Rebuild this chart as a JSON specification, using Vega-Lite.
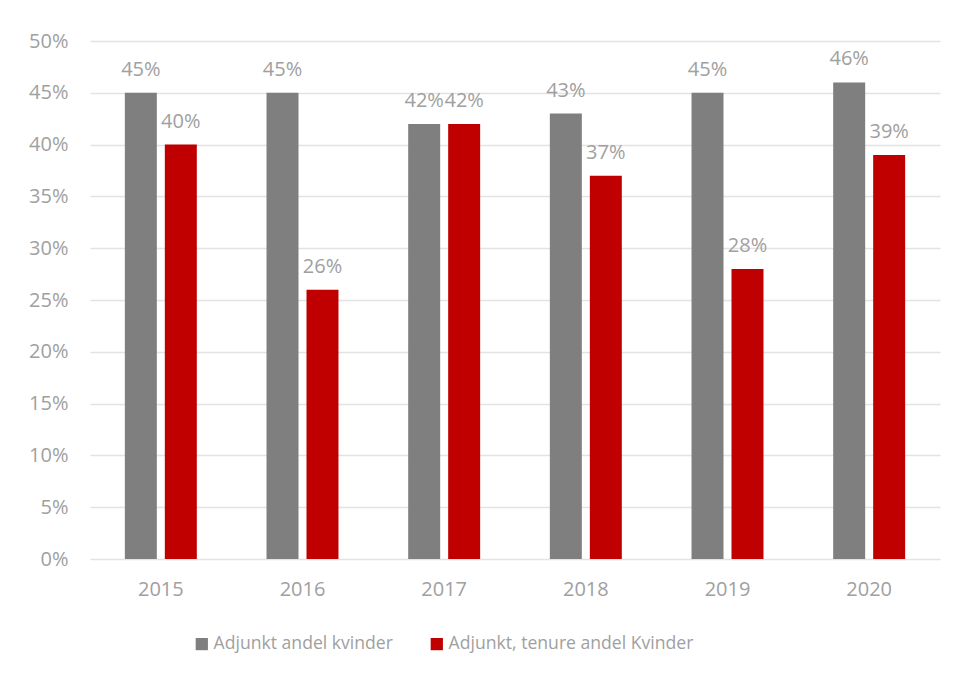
{
  "$schema": "https://vega.github.io/schema/vega-lite/v6.json",
  "width": 850,
  "height": 518,
  "autosize": {"type": "none"},
  "padding": {"left": 90, "top": 41, "right": 15, "bottom": 116},
  "background": "white",
  "data": {
    "values": [
      {"year": "2015", "series": "Adjunkt andel kvinder", "value": 0.45},
      {"year": "2015", "series": "Adjunkt, tenure andel Kvinder", "value": 0.40},
      {"year": "2016", "series": "Adjunkt andel kvinder", "value": 0.45},
      {"year": "2016", "series": "Adjunkt, tenure andel Kvinder", "value": 0.26},
      {"year": "2017", "series": "Adjunkt andel kvinder", "value": 0.42},
      {"year": "2017", "series": "Adjunkt, tenure andel Kvinder", "value": 0.42},
      {"year": "2018", "series": "Adjunkt andel kvinder", "value": 0.43},
      {"year": "2018", "series": "Adjunkt, tenure andel Kvinder", "value": 0.37},
      {"year": "2019", "series": "Adjunkt andel kvinder", "value": 0.45},
      {"year": "2019", "series": "Adjunkt, tenure andel Kvinder", "value": 0.28},
      {"year": "2020", "series": "Adjunkt andel kvinder", "value": 0.46},
      {"year": "2020", "series": "Adjunkt, tenure andel Kvinder", "value": 0.39}
    ]
  },
  "encoding": {
    "x": {
      "field": "year", "type": "nominal",
      "scale": {"paddingInner": 0.492, "paddingOuter": 0.246},
      "axis": {"title": null, "labelAngle": 0, "domain": false, "ticks": false, "labelPadding": 20, "labelFontSize": 20, "labelColor": "#a0a0a0", "labelFont": "Open Sans"}
    },
    "xOffset": {"field": "series", "type": "nominal", "scale": {"paddingInner": 0.2, "paddingOuter": 0}},
    "y": {
      "field": "value", "type": "quantitative",
      "scale": {"domain": [0, 0.5], "nice": false},
      "axis": {"title": null, "values": [0, 0.05, 0.1, 0.15, 0.2, 0.25, 0.3, 0.35, 0.4, 0.45, 0.5], "format": ".0%", "domain": false, "ticks": false, "labelPadding": 22, "labelFontSize": 20, "labelColor": "#a0a0a0", "labelFont": "Open Sans", "gridColor": "#e3e3e3", "gridWidth": 1.5}
    }
  },
  "layer": [
    {
      "mark": {"type": "bar"},
      "encoding": {
        "color": {
          "field": "series", "type": "nominal",
          "scale": {"domain": ["Adjunkt andel kvinder", "Adjunkt, tenure andel Kvinder"], "range": ["#7f7f7f", "#c00000"]},
          "legend": {"title": null, "orient": "none", "legendX": 103, "legendY": 594, "direction": "horizontal", "symbolType": "square", "symbolSize": 150, "symbolStrokeWidth": 0, "labelFontSize": 17.6, "labelLimit": 0, "labelColor": "#a0a0a0", "labelFont": "Open Sans", "columnPadding": 35, "labelOffset": 3}
        }
      }
    },
    {
      "mark": {"type": "text", "baseline": "alphabetic", "dy": -17, "fontSize": 20, "font": "Open Sans", "color": "#a0a0a0"},
      "encoding": {
        "text": {"field": "value", "type": "quantitative", "format": ".0%"}
      }
    }
  ],
  "config": {"view": {"stroke": null}}
}
